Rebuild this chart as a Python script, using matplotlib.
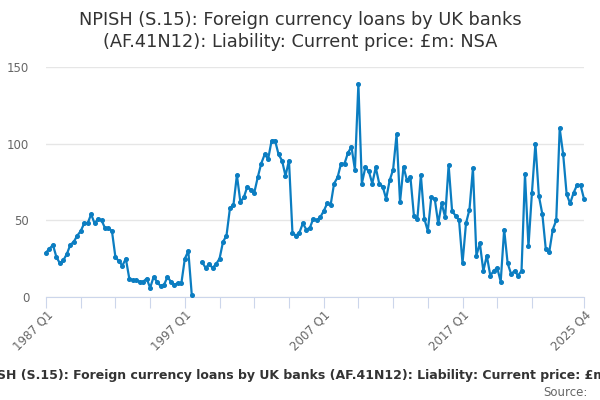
import numpy as np
import matplotlib
matplotlib.use("Agg")
import matplotlib.pyplot as plt

# quarterly series, 1987 Q1 .. 2025 Q4 (NaN = missing)
start_year = 1987
end_year = 2025
values = [
    29, 31.5, 34, 26, 22, 24, 28, 34, 36, 40,
    43, 48, 48, 54, 48, 51, 50, 45, 45, 43,
    26, 23.4, 20.4, 25, 12, 11, 11, 10, 10, 12,
    6, 13, 10, 7, 8, 13, 10, 8, 9, 9,
    25, 30, 1.3, np.nan, np.nan, 22.6, 19, 21.5, 19, 21.5,
    25, 36, 40, 58, 60, 79.5, 62, 65, 72, 70,
    68, 78, 87, 93, 90, 102, 102, 93, 89, 79,
    89, 42, 40, 42, 48, 44, 45, 51, 50, 52,
    56, 61, 60, 74, 78, 87, 87, 94, 98, 83,
    139, 74, 84.5, 82, 74, 84.5, 74, 72, 64, 76,
    83, 106, 62, 85, 76, 78, 53, 51, 79.5, 51,
    43, 65, 64, 48, 61, 52, 86, 56, 53, 50,
    22, 48, 57, 84, 27, 35, 17, 27, 14, 17,
    19, 10, 44, 22, 15, 17, 14, 17, 80, 33,
    68, 100, 66, 54, 31, 29.5, 44, 50, 110, 93,
    67, 61, 68, 73, 73, 64,
]
quarters = [f"{y} Q{q}" for y in range(start_year, end_year + 1) for q in range(1, 5)]
label_quarters = ["1987 Q1", "1997 Q1", "2007 Q1", "2017 Q1", "2025 Q4"]
y_ticks = [0, 50, 100, 150]

title = "NPISH (S.15): Foreign currency loans by UK banks\n(AF.41N12): Liability: Current price: £m: NSA"
caption = "NPISH (S.15): Foreign currency loans by UK banks (AF.41N12): Liability: Current price: £m: NSA"

line_color = "#0b7dc1"
x = np.arange(len(values))

fig = plt.figure(figsize=(6, 4), dpi=100)
ax = fig.add_axes([46 / 600, 1 - 297 / 400, (584 - 46) / 600, (297 - 67) / 400])

ax.plot(x, values, color=line_color, lw=1.6, marker="o", ms=2.6, clip_on=False, zorder=3)

ax.set_xlim(0, len(values) - 1)
ax.set_ylim(0, 150)
ax.set_yticks(y_ticks)
ax.yaxis.grid(True, color="#e6e6e6", lw=1)
ax.set_axisbelow(True)

# ticks every 10 quarters plus the last quarter
minor = list(range(0, 150, 10)) + [len(values) - 1]
ax.set_xticks(minor)
ax.set_xticklabels([quarters[i] if quarters[i] in label_quarters else "" for i in minor],
                   rotation=45, ha="right", rotation_mode="anchor")

for side in ["top", "right", "left"]:
    ax.spines[side].set_visible(False)
ax.spines["bottom"].set_color("#ccd6eb")
ax.tick_params(axis="x", length=8, color="#ccd6eb", labelsize=8.5, labelcolor="#666666", pad=0)
ax.tick_params(axis="y", length=0, labelsize=8.5, labelcolor="#666666", pad=12)

fig.text(0.5, 1 - 31 / 400, title, ha="center", va="center", fontsize=12.8,
         color="#333333", linespacing=1.25)
fig.text(309 / 600, 1 - 375 / 400, caption, ha="center", va="center", fontsize=9,
         fontweight="bold", color="#333333")
fig.text(588 / 600, 1 - 392 / 400, "Source:", ha="right", va="center", fontsize=8.5,
         color="#666666")

fig.savefig("out.png", dpi=100)
